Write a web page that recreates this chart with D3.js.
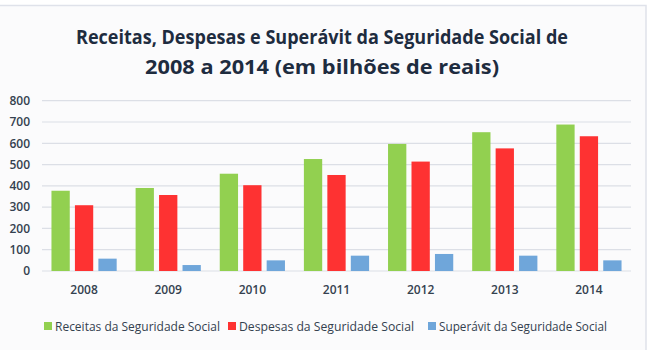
<!DOCTYPE html>
<html lang="pt">
<head>
    <meta charset="UTF-8">
    <title>Seguridade Social</title>
    <script src="https://d3js.org/d3.v7.min.js"></script>
    <style>
        body { margin: 0; background: #fff; }
        text { font-family: "Open Sans", "Noto Sans", sans-serif; }
    </style>
</head>
<body>
    <svg width="650" height="350"></svg>

    <script>
        // data (bilhões de reais)
        const years = ["2008", "2009", "2010", "2011", "2012", "2013", "2014"];
        const receitas = [377, 390, 457, 526, 597, 652, 688];
        const despesas = [309, 357, 403, 451, 514, 576, 633];
        const superavit = [58, 28, 50, 72, 80, 72, 50];
        const seriesNames = ["Receitas da Seguridade Social", "Despesas da Seguridade Social", "Superávit da Seguridade Social"];
        const seriesColors = ["#92d050", "#fe3232", "#6fa6da"];
        const yTicks = [0, 100, 200, 300, 400, 500, 600, 700, 800];

        const series = [receitas, despesas, superavit];

        const svg = d3.select('svg');

        // frame
        svg.append('rect')
            .attr('x', -2).attr('y', 5.5)
            .attr('width', 648).attr('height', 360)
            .attr('fill', '#fbfbfc')
            .attr('stroke', '#dfe2ea')
            .attr('stroke-width', 1.5);

        // title
        const title = svg.append('g').attr('fill', '#1e2c3f')
            .attr('font-weight', 'bold').attr('font-size', 20).attr('text-anchor', 'middle');
        title.append('text').attr('x', 322).attr('y', 44)
            .attr('textLength', 492).attr('lengthAdjust', 'spacingAndGlyphs')
            .text('Receitas, Despesas e Superávit da Seguridade Social de');
        title.append('text').attr('x', 322).attr('y', 74)
            .attr('textLength', 354).attr('lengthAdjust', 'spacingAndGlyphs')
            .text('2008 a 2014 (em bilhões de reais)');

        const x0 = d3.scaleBand().domain(years).range([42, 631])
            .paddingInner(0.225).paddingOuter(0.1125);
        const x1 = d3.scaleBand().domain(d3.range(3)).range([0, x0.bandwidth()])
            .paddingInner(0.22);
        const y = d3.scaleLinear().domain([0, 800]).range([271, 100.7]);

        // gridlines
        svg.append('g').selectAll('line').data(yTicks).join('line')
            .attr('x1', 42).attr('x2', 631)
            .attr('y1', d => y(d)).attr('y2', d => y(d))
            .attr('stroke', '#dcdfe6').attr('stroke-width', 1.2);

        // y axis labels
        const yAxis = svg.append('g').attr('transform', 'translate(30,0)')
            .call(d3.axisLeft(y).tickValues(yTicks).tickSize(0).tickPadding(0));
        yAxis.select('.domain').remove();
        yAxis.selectAll('text').attr('font-size', 12).attr('fill', '#34414f')
            .attr('font-family', '"Open Sans", sans-serif').attr('font-weight', 600);

        // x axis labels
        const xAxis = svg.append('g').attr('transform', 'translate(0,285)')
            .call(d3.axisBottom(x0).tickSize(0).tickPadding(0));
        xAxis.select('.domain').remove();
        xAxis.selectAll('text').attr('font-size', 12).attr('fill', '#34414f')
            .attr('font-family', '"Open Sans", sans-serif').attr('font-weight', 600);

        // bars
        const groups = svg.append('g').selectAll('g').data(years).join('g')
            .attr('transform', d => `translate(${x0(d)},0)`);
        groups.selectAll('rect')
            .data((yr, i) => series.map((s, k) => ({ k, v: s[i] })))
            .join('rect')
            .attr('x', d => x1(d.k))
            .attr('width', x1.bandwidth())
            .attr('y', d => y(d.v))
            .attr('height', d => y(0) - y(d.v))
            .attr('fill', d => seriesColors[d.k]);

        // legend
        const legendX = [44, 228, 428];
        const legend = svg.append('g').selectAll('g').data(seriesNames).join('g')
            .attr('transform', (d, i) => `translate(${legendX[i]},321)`);
        legend.append('rect').attr('width', 8).attr('height', 8).attr('y', 1)
            .attr('fill', (d, i) => seriesColors[i]);
        legend.append('text').attr('x', 11).attr('y', 10)
            .attr('font-size', 12.5).attr('fill', '#34414f')
            .attr('textLength', (d, i) => [165, 175, 168][i])
            .attr('lengthAdjust', 'spacingAndGlyphs')
            .text(d => d);
    </script>
</body>
</html>
